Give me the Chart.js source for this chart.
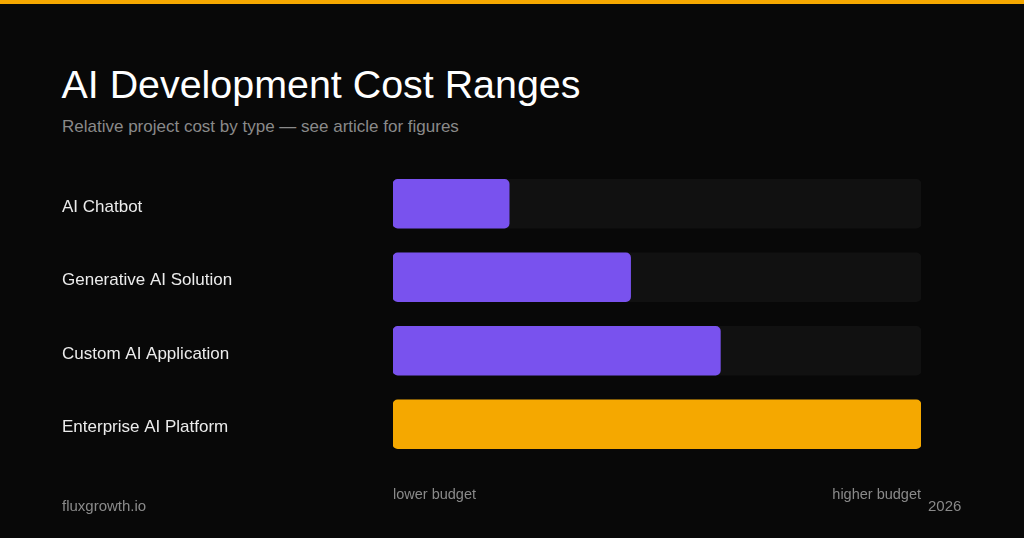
<!DOCTYPE html>
<html>
<head>
<meta charset="utf-8">
<script src="https://cdn.jsdelivr.net/npm/chart.js@4.4.1/dist/chart.umd.min.js"></script>
<style>
  html, body { margin: 0; padding: 0; background: #080808; }
  body { width: 1024px; height: 538px; position: relative; overflow: hidden; font-family: "Liberation Sans", Arial, sans-serif; }
  #topbar { position: absolute; left: 0; top: 0; width: 1024px; height: 4px; background: #f5a800; }
  #title { position: absolute; left: 61.5px; top: 65px; font-size: 39.4px; line-height: 39px; color: #ffffff; white-space: nowrap; }
  #subtitle { position: absolute; left: 62px; top: 118px; font-size: 17px; line-height: 17px; color: #8a8a8a; white-space: nowrap; }
  #brand { position: absolute; left: 62px; top: 498px; font-size: 15px; line-height: 15px; color: #8a8a8a; }
  #year { position: absolute; left: 928px; top: 498px; font-size: 15px; line-height: 15px; color: #8a8a8a; }
  #wrap { position: absolute; left: 0; top: 0; width: 1024px; height: 538px; }
</style>
</head>
<body>
<div id="topbar"></div>
<div id="title">AI Development Cost Ranges</div>
<div id="subtitle">Relative project cost by type — see article for figures</div>
<div id="wrap"><canvas id="c" width="1024" height="538"></canvas></div>
<div id="brand">fluxgrowth.io</div>
<div id="year">2026</div>
<script>
const categories = ["AI Chatbot", "Generative AI Solution", "Custom AI Application", "Enterprise AI Platform"];
const costValues = [22, 45, 62, 100];
const trackValues = [100, 100, 100, 100];
const axisEndLabels = { 0: "lower budget", 100: "higher budget" };
const barColors = ["#7952ee", "#7952ee", "#7952ee", "#f5a800"];

new Chart(document.getElementById("c"), {
  type: "bar",
  data: {
    labels: categories,
    datasets: [
      {
        label: "Relative cost",
        data: costValues,
        backgroundColor: barColors,
        borderRadius: 5,
        borderSkipped: false,
        barThickness: 49,
        grouped: false,
        order: 0
      },
      {
        label: "Track",
        data: trackValues,
        backgroundColor: "#111111",
        borderRadius: 5,
        borderSkipped: false,
        barThickness: 49,
        grouped: false,
        order: 1
      }
    ]
  },
  options: {
    indexAxis: "y",
    responsive: false,
    animation: false,
    devicePixelRatio: 1,
    layout: { padding: { top: 167, left: 62, right: 103, bottom: 27 } },
    plugins: { legend: { display: false }, tooltip: { enabled: false }, title: { display: false } },
    scales: {
      x: {
        min: 0, max: 100,
        grid: { display: false, drawTicks: false },
        border: { display: false },
        afterFit: (s) => { s.height = 50; },
        afterBuildTicks: (s) => { s.ticks = [{ value: 0 }, { value: 100 }]; },
        ticks: {
          align: "inner",
          padding: 25,
          autoSkip: false,
          maxRotation: 0,
          color: "#8a8a8a",
          font: { family: "Liberation Sans", size: 14.5 },
          callback: (v) => axisEndLabels[v] || ""
        }
      },
      y: {
        grid: { display: false, drawTicks: false },
        border: { display: false },
        afterFit: (s) => { s.width = 331; },
        ticks: {
          crossAlign: "far",
          labelOffset: 3.5,
          color: "#ececec",
          font: { family: "Liberation Sans", size: 17 }
        }
      }
    }
  }
});
</script>
</body>
</html>
